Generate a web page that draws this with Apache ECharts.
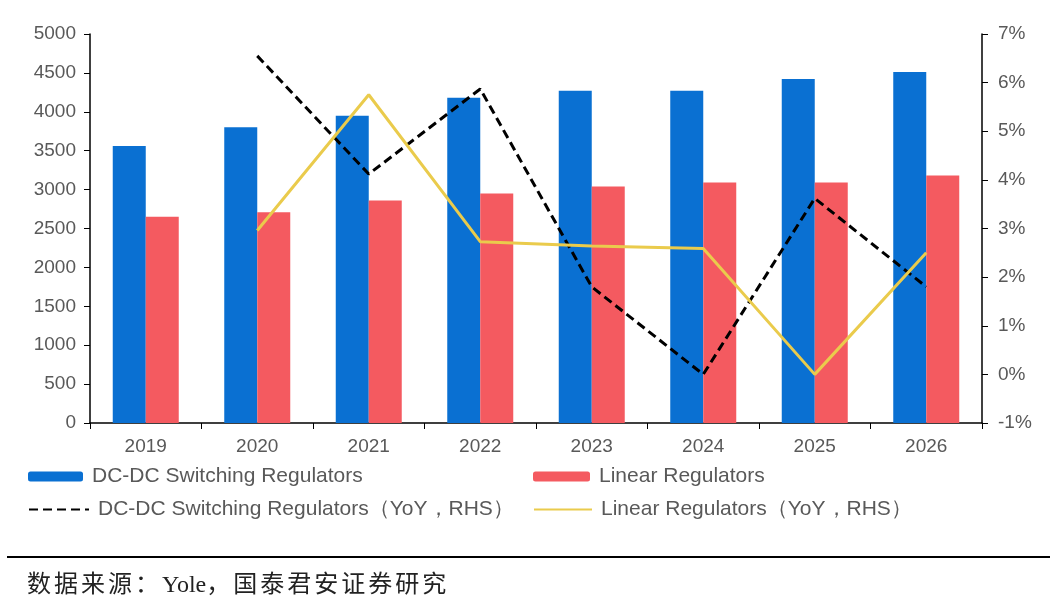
<!DOCTYPE html>
<html>
<head>
<meta charset="utf-8">
<script src="https://cdn.jsdelivr.net/npm/echarts@6/dist/echarts.min.js"></script>
<style>
html,body{margin:0;padding:0;background:#fff;}
#wrap{position:relative;width:1057px;height:610px;}
#c{width:1057px;height:610px;}
#src{position:absolute;left:27px;top:564px;font:24px "Liberation Serif","Noto Sans CJK SC",serif;color:#222;white-space:nowrap;}
#src .cjk{letter-spacing:3px;}
</style>
</head>
<body>
<div id="wrap"><div id="c"></div><div id="src"></div></div>
<script>
const categories = ['2019','2020','2021','2022','2023','2024','2025','2026'];
const dcdc = [3560, 3800, 3950, 4180, 4270, 4270, 4420, 4510];
const linear = [2650, 2710, 2860, 2950, 3040, 3090, 3090, 3180];
const dcdcYoY = [null, 6.55, 4.12, 5.87, 1.80, 0.0, 3.62, 1.80];
const linearYoY = [null, 2.96, 5.75, 2.73, 2.64, 2.59, 0.0, 2.50];
const leftTicks = {min: 0, max: 5000, interval: 500};
const rightTicks = {min: -1, max: 7, interval: 1};
const names = ['DC-DC Switching Regulators', 'Linear Regulators',
  'DC-DC Switching Regulators（YoY，RHS）', 'Linear Regulators（YoY，RHS）'];
const source = '数据来源：Yole，国泰君安证券研究';

(function () {
  const el = document.getElementById('src');
  const runs = source.match(/[A-Za-z0-9 ]+|[^A-Za-z0-9 ]+/g);
  runs.forEach(r => {
    const s = document.createElement('span');
    if (!/^[A-Za-z0-9 ]+$/.test(r)) s.className = 'cjk';
    s.textContent = r;
    el.appendChild(s);
  });
})();
const font = '"Liberation Sans", Arial, sans-serif';
const txt = '#595959';
const chart = echarts.init(document.getElementById('c'), null, {renderer: 'canvas'});
function lg(name, left, top, w, h, isLine) {
  const o = {data: [name], left: left, top: top, itemWidth: w, itemHeight: h, itemGap: 0,
    padding: 0, textStyle: {fontFamily: font, fontSize: 21, color: txt, padding: [0, 0, 0, 4]}};
  if (isLine) o.itemStyle = {opacity: 0};
  return o;
}
chart.setOption({
  animation: false,
  backgroundColor: '#fff',
  grid: {left: 90, right: 75, top: 34, bottom: 187},
  legend: [
    lg(names[0], 28, 466, 55, 10),
    lg(names[1], 533, 466, 57, 10),
    lg(names[2], 28, 499, 60, 12, true),
    lg(names[3], 533, 499, 58, 12, true)
  ],
  xAxis: {
    type: 'category', data: categories,
    axisLine: {lineStyle: {color: '#000', width: 1.5}},
    axisTick: {show: true, length: 6, lineStyle: {color: '#000'}},
    axisLabel: {fontFamily: font, fontSize: 19, color: txt, margin: 14}
  },
  yAxis: [
    {type: 'value', min: leftTicks.min, max: leftTicks.max, interval: leftTicks.interval,
      axisLine: {show: true, lineStyle: {color: '#000', width: 1.5}},
      axisTick: {show: true, length: 6, lineStyle: {color: '#000'}},
      splitLine: {show: false},
      axisLabel: {fontFamily: font, fontSize: 19, color: txt, margin: 14, formatter: v => String(v)}},
    {type: 'value', position: 'right', min: rightTicks.min, max: rightTicks.max, interval: rightTicks.interval,
      axisLine: {show: true, lineStyle: {color: '#000', width: 1.5}},
      axisTick: {show: true, length: 6, lineStyle: {color: '#000'}},
      splitLine: {show: false},
      axisLabel: {fontFamily: font, fontSize: 19, color: txt, margin: 16, formatter: v => v + '%'}}
  ],
  series: [
    {name: names[0], type: 'bar', data: dcdc, barWidth: 33, barGap: '0%',
      itemStyle: {color: '#0A70D2'}},
    {name: names[1], type: 'bar', data: linear, barWidth: 33, barGap: '0%',
      itemStyle: {color: '#F45A60'}},
    {name: names[2], type: 'line', yAxisIndex: 1, data: dcdcYoY, symbol: 'none',
      lineStyle: {color: '#000', width: 3, type: [9, 5]}, itemStyle: {color: '#000'}},
    {name: names[3], type: 'line', yAxisIndex: 1, data: linearYoY, symbol: 'none',
      lineStyle: {color: '#EACB4C', width: 3}, itemStyle: {color: '#EACB4C'}}
  ],
  graphic: [
    {type: 'line', shape: {x1: 7, y1: 557, x2: 1050, y2: 557}, style: {stroke: '#000', lineWidth: 2}}
  ]
});
</script>
</body>
</html>
